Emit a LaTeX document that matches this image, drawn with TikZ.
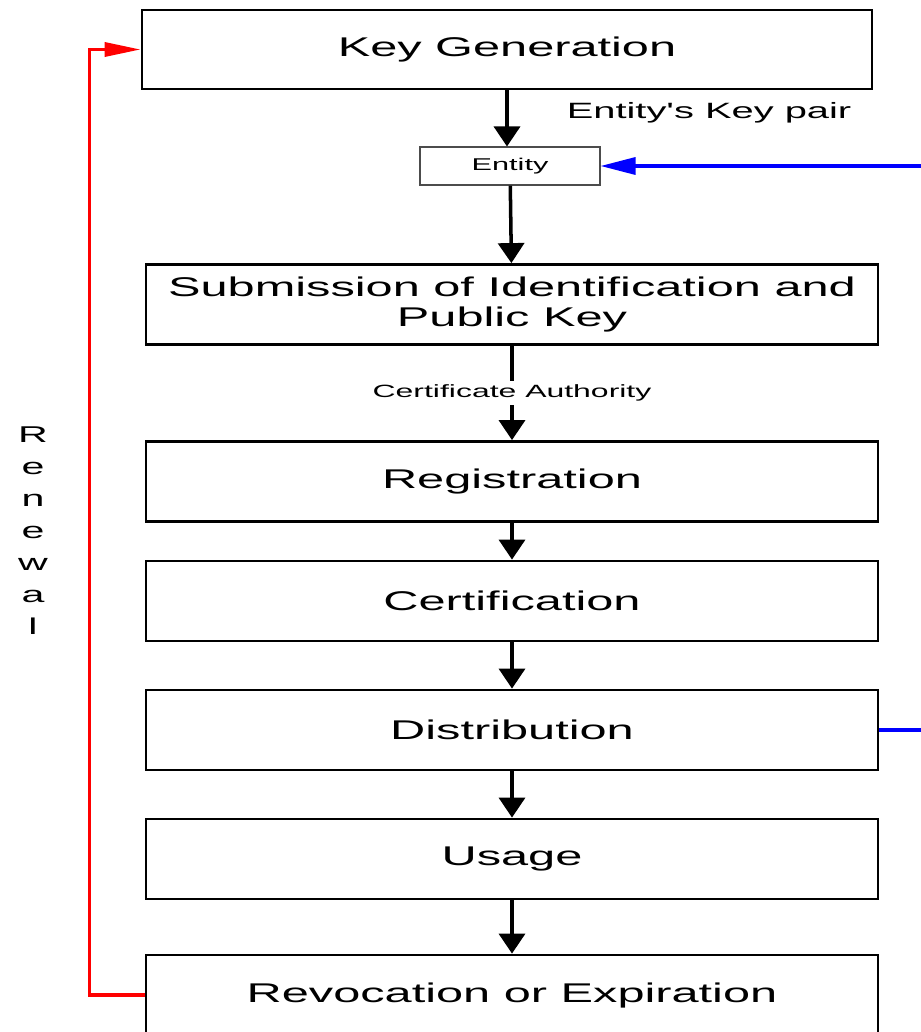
\documentclass[tikz,border=0pt]{standalone}
\usepackage{fontspec}
\setmainfont{Liberation Sans}[FakeStretch=1.8, Ligatures=TeXOff]
\usetikzlibrary{arrows.meta}

\begin{document}
\begin{tikzpicture}[node distance=2.58cm, every node/.style={align=center}, >={Triangle[width=0.52cm,length=0.4cm]}]
    % 样式
    \tikzstyle{stage} = [rectangle, draw=black, line width=1.6pt, minimum width=14.64cm, minimum height=1.6cm, font=\fontsize{15.4}{17}\selectfont]
    \tikzstyle{actor} = [rectangle, draw=black!70, line width=0.6pt, minimum width=3.6cm, minimum height=0.76cm, font=\fontsize{9.7}{11}\selectfont]
    \tikzstyle{note} = [inner sep=2pt]
    \tikzstyle{flow} = [line width=2pt,->]
    \tikzstyle{feed} = [blue, line width=1.9pt, -{Triangle[width=0.34cm,length=0.7cm]}]
    \tikzstyle{renew} = [red, line width=2pt, -{Triangle[width=0.28cm,length=0.72cm]}]

    \useasboundingbox (0,0) rectangle (18.42,-20.64);
    \coordinate (edge) at (18.42,0);

    % 生命周期阶段
    \node[stage, minimum width=14.6cm, minimum height=1.58cm] (keygen) at (10.14,-0.99) {Key Generation};
    \node[actor, below of=keygen, xshift=0.06cm, yshift=0.25cm] (entity) {Entity};
    \node[stage, below of=entity, xshift=0.04cm, yshift=-0.19cm] (sub) {Submission of Identification and\\Public Key};
    \node[note, below of=sub, yshift=0.81cm, font=\fontsize{10.1}{12}\selectfont] (ca) {Certificate Authority};
    \node[stage, below of=ca, yshift=0.81cm] (reg) {Registration};
    \node[stage, below of=reg, yshift=0.19cm] (cert) {Certification};
    \node[stage, below of=cert] (dist) {Distribution};
    \node[stage, below of=dist] (usage) {Usage};
    \node[stage, below of=usage, yshift=-0.14cm] (revo) {Revocation or Expiration};

    % 标注
    \node[note, below of=keygen, xshift=4.04cm, yshift=1.31cm, font=\fontsize{12.6}{14}\selectfont] (keypair) {Entity's Key pair};
    \node[note, left of=reg, xshift=-7.0cm, yshift=-0.99cm, font=\fontsize{13}{18.2}\selectfont] (renewal) {R\\e\\n\\e\\w\\a\\l};

    % 箭头
    \draw[flow] (keygen.south) -- (keygen.south |- entity.north);
    \draw[flow] (entity) -- (sub);
    \draw[line width=2pt] (sub) -- (ca);
    \draw[flow] (ca) -- (reg);
    \draw[flow] (reg) -- (cert);
    \draw[flow] (cert) -- (dist);
    \draw[flow] (dist) -- (usage);
    \draw[flow] (usage) -- (revo);
    \draw[feed] (entity -| edge) -- (entity);
    \draw[feed, -] (dist) -- (dist -| edge);
    \draw[renew] (revo.west) -- ++(-1.1,0) |- (keygen.west);
  \end{tikzpicture}
\end{document}
